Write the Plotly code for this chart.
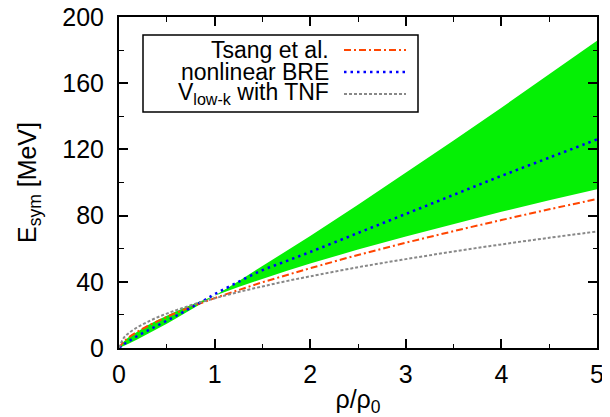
import plotly.graph_objects as go

# density rho/rho0
rho = [0, 0.05, 0.1, 0.2, 0.3, 0.4, 0.5, 0.6, 0.7, 0.8, 0.9, 1.0,
       1.25, 1.5, 1.75, 2.0, 2.5, 3.0, 3.5, 4.0, 4.5, 5.0]

# green band (lower / upper edge), MeV
band_lo = [0, 1.2, 2.5, 5.4, 8.4, 11.5, 14.7, 18.0, 21.4, 24.7, 28.1, 31.6,
           36.9, 41.8, 46.5, 51.0, 59.5, 67.4, 75.0, 82.3, 89.2, 95.9]
band_hi = [0, 4.0, 6.5, 10.4, 13.8, 16.8, 19.6, 22.2, 24.7, 27.1, 29.4, 31.6,
           40.4, 49.4, 58.5, 67.7, 86.6, 105.8, 125.4, 145.2, 165.2, 185.6]

# Tsang et al.
tsang = [0, 3.9, 6.3, 10.1, 13.3, 16.1, 18.8, 21.3, 23.6, 25.9, 28.0, 30.1,
         35.0, 39.7, 44.0, 48.2, 56.2, 63.6, 70.6, 77.3, 83.8, 90.0]
# nonlinear BRE
bre = [0, 2.3, 4.0, 7.5, 10.5, 13.5, 16.5, 19.5, 22.7, 25.9, 29.1, 32.5,
       40.0, 47.0, 52.5, 58.0, 69.5, 81.0, 92.5, 104.0, 115.0, 126.0]
# V_low-k with TNF
vlowk = [0, 6.1, 8.9, 12.8, 15.8, 18.5, 20.8, 22.9, 24.8, 26.7, 28.4, 30.0,
         33.8, 37.2, 40.4, 43.3, 48.8, 53.7, 58.3, 62.6, 66.6, 70.4]

names = ["Tsang et al.", "nonlinear BRE", "V<sub>low-k</sub> with TNF"]
colors = ["rgb(255,69,0)", "rgb(0,0,255)", "rgb(136,136,136)"]
dashes = ["7px,3px,2px,3px", "2.5px,4px", "3px,2px"]
widths = [2, 2.5, 2]

x_ticks = [0, 1, 2, 3, 4, 5]
y_ticks = [0, 40, 80, 120, 160, 200]

FONT = "Liberation Sans, Arial, sans-serif"
GREEN = "rgb(5,240,5)"

fig = go.Figure()
fig.add_trace(go.Scatter(x=rho, y=band_lo, mode="lines", line=dict(width=0, color=GREEN),
                         showlegend=False, hoverinfo="skip"))
fig.add_trace(go.Scatter(x=rho, y=band_hi, mode="lines", line=dict(width=0, color=GREEN),
                         fill="tonexty", fillcolor=GREEN, showlegend=False, hoverinfo="skip"))
for ys, n, c, d, w in zip([tsang, bre, vlowk], names, colors, dashes, widths):
    fig.add_trace(go.Scatter(x=rho, y=ys, mode="lines", name=n,
                             line=dict(color=c, dash=d, width=w, shape="spline"),
                             showlegend=False))

# page has an 8px body margin: figure coords = page coords - 8
OFF = 8
W, H = 610 - OFF, 417 - OFF
L, R, T, B = 119 - OFF, 597 - OFF, 17 - OFF, 348 - OFF

def px(x):  # page pixel -> paper
    return (x - OFF - L) / (R - L)

def py(y):
    return (B - (y - OFF)) / (B - T)

shapes = [dict(type="rect", xref="paper", yref="paper",
               x0=px(143), x1=px(418), y0=py(112), y1=py(35),
               line=dict(color="black", width=1.5), fillcolor="white", layer="above")]
annotations = []
rows = [50, 72, 94]
for r, n, c, d, w in zip(rows, names, colors, dashes, widths):
    shapes.append(dict(type="line", xref="paper", yref="paper",
                       x0=px(344), x1=px(406), y0=py(r), y1=py(r),
                       line=dict(color=c, dash=d, width=w), layer="above"))
    annotations.append(dict(xref="paper", yref="paper", x=px(331), y=py(r),
                            xanchor="right", yanchor="middle", text=n, showarrow=False,
                            font=dict(family=FONT, size=23, color="black")))

axis_common = dict(showline=True, linecolor="black", linewidth=2, mirror="ticks",
                   ticks="inside", ticklen=9, tickwidth=1.5, tickcolor="black",
                   showgrid=False, zeroline=False, automargin=False,
                   ticklabeloverflow="allow",
                   tickfont=dict(family=FONT, size=25, color="black"))

fig.update_layout(
    width=W, height=H,
    margin=dict(l=L, r=W - R, t=T, b=H - B),
    paper_bgcolor="white", plot_bgcolor="white",
    xaxis=dict(range=[0, 5], tickvals=x_ticks, ticktext=[str(v) for v in x_ticks],
               ticklabelstandoff=3,
               minor=dict(dtick=0.5, ticks="inside", ticklen=4.5, tickwidth=1.2, tickcolor="black"),
               title=dict(text="ρ/ρ<sub>0</sub>", font=dict(family=FONT, size=25, color="black"), standoff=11),
               **axis_common),
    yaxis=dict(range=[0, 200], tickvals=y_ticks, ticktext=[str(v) for v in y_ticks],
               ticklabelstandoff=8,
               minor=dict(dtick=20, ticks="inside", ticklen=4.5, tickwidth=1.2, tickcolor="black"),
               title=dict(text="E<sub>sym</sub> [MeV]", font=dict(family=FONT, size=25, color="black"), standoff=19),
               **axis_common),
    shapes=shapes, annotations=annotations,
    showlegend=False,
)

fig.write_html("out.html")
